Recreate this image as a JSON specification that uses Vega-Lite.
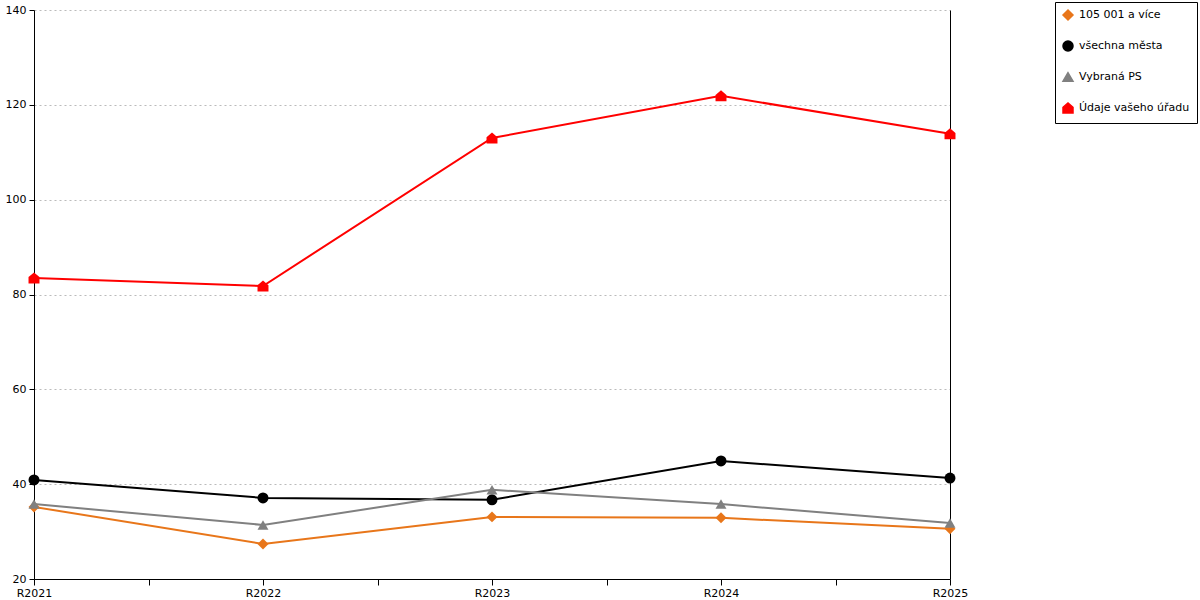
{
  "$schema": "https://vega.github.io/schema/vega-lite/v6.json",
  "width": 916,
  "height": 569,
  "autosize": "none",
  "padding": {"left": 34, "top": 10, "right": 250, "bottom": 21},
  "config": {
    "view": {"stroke": null},
    "font": "DejaVu Sans",
    "axis": {"labelFont": "DejaVu Sans", "labelFontSize": 11, "labelColor": "#000", "domainColor": "#000", "tickColor": "#000"}
  },
  "data": {
    "values": [
      {"rok": 2021, "rada": "105 001 a více", "hodnota": 35.2},
      {"rok": 2022, "rada": "105 001 a více", "hodnota": 27.4},
      {"rok": 2023, "rada": "105 001 a více", "hodnota": 33.1},
      {"rok": 2024, "rada": "105 001 a více", "hodnota": 32.9},
      {"rok": 2025, "rada": "105 001 a více", "hodnota": 30.6},
      {"rok": 2021, "rada": "všechna města", "hodnota": 40.9},
      {"rok": 2022, "rada": "všechna města", "hodnota": 37.1},
      {"rok": 2023, "rada": "všechna města", "hodnota": 36.7},
      {"rok": 2024, "rada": "všechna města", "hodnota": 44.9},
      {"rok": 2025, "rada": "všechna města", "hodnota": 41.3},
      {"rok": 2021, "rada": "Vybraná PS", "hodnota": 35.8},
      {"rok": 2022, "rada": "Vybraná PS", "hodnota": 31.4},
      {"rok": 2023, "rada": "Vybraná PS", "hodnota": 38.8},
      {"rok": 2024, "rada": "Vybraná PS", "hodnota": 35.8},
      {"rok": 2025, "rada": "Vybraná PS", "hodnota": 31.8},
      {"rok": 2021, "rada": "Údaje vašeho úřadu", "hodnota": 83.5},
      {"rok": 2022, "rada": "Údaje vašeho úřadu", "hodnota": 81.8},
      {"rok": 2023, "rada": "Údaje vašeho úřadu", "hodnota": 113.0},
      {"rok": 2024, "rada": "Údaje vašeho úřadu", "hodnota": 121.9},
      {"rok": 2025, "rada": "Údaje vašeho úřadu", "hodnota": 113.9}
    ]
  },
  "encoding": {
    "x": {
      "field": "rok",
      "type": "quantitative",
      "scale": {"domain": [2021, 2025], "nice": false, "zero": false},
      "axis": {
        "title": null,
        "grid": false,
        "values": [2021, 2021.5, 2022, 2022.5, 2023, 2023.5, 2024, 2024.5, 2025],
        "labelExpr": "datum.value % 1 == 0 ? 'R' + datum.value : ''",
        "tickSize": 6,
        "labelPadding": 2,
        "labelFlush": false
      }
    },
    "color": {
      "field": "rada",
      "type": "nominal",
      "scale": {
        "domain": ["105 001 a více", "všechna města", "Vybraná PS", "Údaje vašeho úřadu"],
        "range": ["#e8761a", "#000000", "#808080", "#ff0000"]
      },
      "legend": {
        "title": null,
        "orient": "none",
        "legendX": 1021,
        "legendY": -8,
        "strokeColor": "#000",
        "padding": 7,
        "rowPadding": 15,
        "labelFontSize": 11,
        "labelFont": "DejaVu Sans",
        "labelColor": "#000",
        "symbolSize": 100,
        "symbolOpacity": 1,
        "labelOffset": 5
      }
    }
  },
  "layer": [
    {
      "mark": {"type": "line", "strokeWidth": 2},
      "encoding": {
        "y": {
          "field": "hodnota",
          "type": "quantitative",
          "scale": {"domain": [20, 140], "nice": false, "zero": false},
          "axis": {
            "title": null,
            "values": [20, 40, 60, 80, 100, 120, 140],
            "labelOverlap": false,
            "tickSize": 5,
            "labelPadding": 3,
            "grid": true,
            "gridColor": "#bbbbbb",
            "gridDash": [2, 3],
            "labelFlush": false
          }
        }
      }
    },
    {
      "mark": {"type": "point", "filled": true, "opacity": 1, "size": 120},
      "encoding": {
        "y": {
          "field": "hodnota",
          "type": "quantitative",
          "axis": {"orient": "right", "labels": false, "ticks": false, "grid": false, "title": null, "domainColor": "#000"}
        },
        "shape": {
          "field": "rada",
          "type": "nominal",
          "scale": {
            "domain": ["105 001 a více", "všechna města", "Vybraná PS", "Údaje vašeho úřadu"],
            "range": ["diamond", "circle", "triangle-up", "M-1,1L1,1L1,-0.15L0,-1L-1,-0.15Z"]
          },
          "legend": {
            "title": null,
            "orient": "none",
            "legendX": 1021,
            "legendY": -8,
            "strokeColor": "#000",
            "padding": 7,
            "rowPadding": 15,
            "labelFontSize": 11,
            "labelFont": "DejaVu Sans",
            "labelColor": "#000",
            "symbolSize": 100,
            "symbolOpacity": 1,
            "labelOffset": 5
          }
        }
      }
    }
  ],
  "resolve": {"axis": {"y": "independent"}}
}
